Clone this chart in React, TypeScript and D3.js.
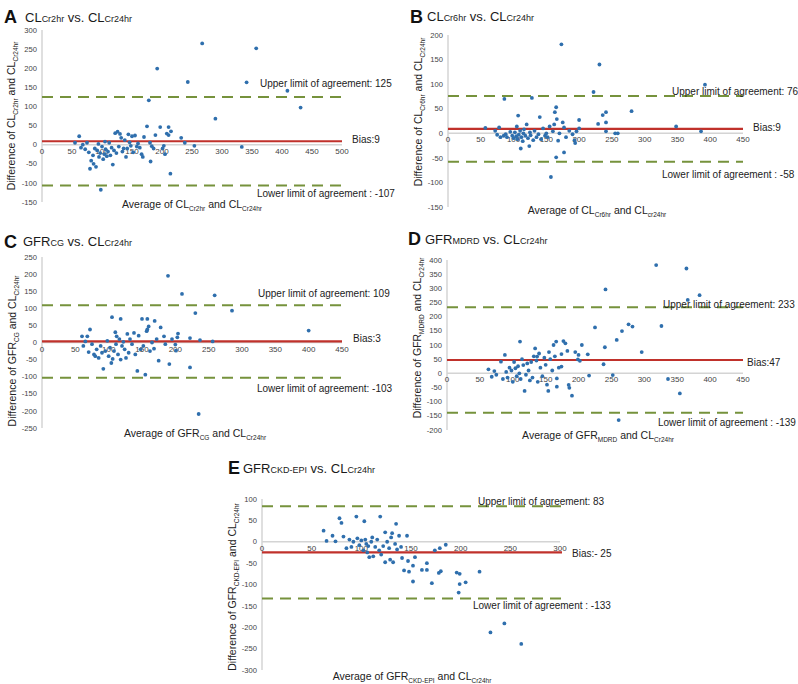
import React from "react";
import * as d3 from "d3";

// ---------- DATA ----------
const panelIds = ["A", "B", "C", "D", "E"];
const upperLimits = [125, 76, 109, 233, 83];
const biases = [9, 9, 3, 47, -25];
const lowerLimits = [-107, -58, -103, -139, -133];
const upperLabels = ["Upper limit of agreement: 125", "Upper limit of agreement: 76", "Upper limit of agreement: 109", "Upper limit of agreement: 233", "Upper limit of agreement: 83"];
const biasLabels = ["Bias:9", "Bias:9", "Bias:3", "Bias:47", "Bias:- 25"];
const lowerLabels = ["Lower limit of agreement : -107", "Lower limit of agreement : -58", "Lower limit of agreement: -103", "Lower limit of agreement : -139", "Lower limit of agreement : -133"];

const xTicksA = [0, 50, 100, 150, 200, 250, 300, 350, 400, 450, 500];
const xTicks450 = [0, 50, 100, 150, 200, 250, 300, 350, 400, 450];
const xTicksE = [0, 50, 100, 150, 200, 250, 300];
const yTicksA = [-150, -100, -50, 0, 50, 100, 150, 200, 250, 300];
const yTicksB = [-150, -100, -50, 0, 50, 100, 150, 200];
const yTicksC = [-250, -200, -150, -100, -50, 0, 50, 100, 150, 200, 250];
const yTicksD = [-200, -150, -100, -50, 0, 50, 100, 150, 200, 250, 300, 350, 400];
const yTicksE = [-300, -250, -200, -150, -100, -50, 0, 50, 100];

const pointsA: [number, number][] = [
  [55, 5], [62, 22], [65, -8], [68, 0], [72, -12], [75, 5], [78, -20], [80, -63], [82, -42], [85, -28], [86, -50], [88, -10], [90, -58], [92, -15], [94, 2], [95, -32], [97, -22], [98, -118], [100, -5], [102, -38], [104, -25], [105, 8], [106, -12], [108, -30], [110, -18], [112, 5], [114, -28], [116, -8], [118, -52], [120, -15], [122, 30], [124, -22], [126, 34], [128, -5], [130, 28], [132, 18], [134, -18], [136, -10], [138, 12], [140, -32], [142, -10], [144, 27], [146, 6], [148, -3], [150, 22], [152, -20], [155, 24], [158, -5], [160, 3], [163, -8], [166, -25], [168, -32], [170, 20], [175, 48], [178, 116], [180, 5], [181, -44], [183, -4], [186, -10], [189, 25], [192, 199], [197, 46], [201, -10], [203, -3], [205, -25], [208, 29], [211, 46], [211, 25], [214, -76], [215, 35], [232, 18], [238, 5], [243, 164], [254, -3], [267, 265], [289, 68], [333, -6], [341, 163], [357, 252], [409, 141], [431, 97],
];
const pointsB: [number, number][] = [
  [57, 11], [72, 5], [75, -3], [78, 12], [80, -8], [85, -5], [86, 70], [88, -2], [90, -8], [95, 3], [98, -5], [100, -10], [102, 2], [104, -6], [105, 14], [106, -12], [107, 36], [108, -3], [110, 5], [111, -31], [112, -8], [114, -16], [115, 0], [116, 8], [118, -5], [120, 18], [122, -10], [124, -26], [125, 2], [126, -4], [128, 72], [130, -14], [132, 5], [135, -8], [138, -2], [140, 33], [142, -12], [145, 10], [148, -5], [150, 0], [152, -8], [155, 14], [157, -89], [160, 4], [162, 18], [163, 43], [165, 53], [165, -49], [166, 29], [168, -15], [170, 0], [173, 181], [175, 22], [177, 12], [177, -39], [180, -8], [185, 5], [190, -2], [193, -14], [194, -20], [196, 4], [200, 27], [200, 10], [222, 84], [229, 19], [231, 140], [236, 37], [241, 43], [241, 22], [241, 4], [255, 0], [259, 0], [280, 45], [348, 14], [386, 4], [392, 99],
];
const pointsC: [number, number][] = [
  [60, 18], [62, -10], [65, 3], [68, 18], [70, -28], [72, 38], [75, -5], [78, -35], [80, -40], [82, -20], [85, -45], [88, -10], [90, -30], [92, -77], [95, -25], [98, 5], [100, -40], [102, -15], [104, -60], [105, 74], [106, -48], [108, -25], [110, 30], [111, -5], [112, 18], [114, -35], [116, 10], [118, 69], [118, -50], [120, -10], [122, 2], [124, -20], [126, -45], [128, 25], [130, -30], [132, 10], [135, -5], [138, 28], [140, -35], [143, -83], [145, 20], [148, -20], [150, 69], [152, -10], [155, -94], [157, 33], [158, 38], [158, 69], [160, 47], [162, -25], [165, 0], [168, -18], [169, 63], [172, 10], [175, -53], [178, 44], [183, 18], [185, -5], [189, 195], [191, -63], [195, 10], [200, -6], [201, -24], [203, 15], [204, 26], [210, 142], [222, 13], [222, -73], [230, 86], [235, -209], [237, 7], [256, 3], [259, 138], [285, 93], [400, 35],
];
const pointsD: [number, number][] = [
  [63, 14], [68, -12], [72, 8], [75, -5], [82, 41], [85, -20], [88, 65], [90, 5], [92, -15], [95, 20], [98, 10], [100, -30], [102, 40], [104, 18], [106, -10], [108, 25], [110, 0], [111, 112], [112, -20], [114, 50], [116, 29], [118, -62], [120, -5], [122, 35], [124, 10], [126, -25], [128, 40], [130, -15], [132, 60], [134, 88], [136, 45], [137, 59], [138, -30], [140, 70], [142, 20], [145, -10], [148, 55], [150, 30], [152, -40], [154, -62], [155, 75], [157, 50], [160, 10], [162, 100], [164, 60], [166, 112], [167, -18], [167, -47], [170, 20], [174, 68], [174, 24], [177, 114], [180, 106], [183, 79], [185, -41], [186, -51], [190, -79], [195, 75], [199, 49], [200, 65], [202, 44], [205, 100], [214, 67], [216, -8], [225, 162], [238, 32], [240, 92], [241, 296], [252, -6], [258, 118], [261, -165], [266, 149], [276, 173], [282, 165], [296, 75], [318, 382], [326, 167], [336, -20], [354, -71], [364, 370], [366, 259], [384, 276],
];
const pointsE: [number, number][] = [
  [62, 26], [65, 2], [71, 14], [74, 1], [78, 55], [80, 44], [82, 12], [85, -15], [88, 5], [90, -12], [92, 0], [95, 59], [96, 8], [98, -8], [100, 3], [102, -20], [103, 48], [104, 5], [105, -5], [106, -25], [107, -10], [108, -36], [110, 0], [111, 10], [112, -34], [114, -12], [116, 5], [118, -20], [119, 59], [120, -30], [122, -10], [124, 22], [124, -48], [126, 0], [128, -15], [129, -42], [130, 10], [131, 20], [132, -48], [134, -5], [135, 42], [136, -18], [138, 14], [140, -12], [141, -38], [143, -67], [146, 14], [147, -45], [148, -70], [152, -56], [152, -93], [154, -36], [161, -66], [166, -50], [166, -66], [171, -97], [174, -20], [178, -73], [179, -15], [180, -69], [185, -7], [196, -72], [198, -119], [199, -75], [199, -99], [205, -95], [219, -70], [230, -212], [244, -191], [261, -239],
];

// title / axis-title parts: [main, sub, main, sub]
const titleParts: [string, string, string, string][] = [
  ["CL", "Cr2hr", "CL", "Cr24hr"],
  ["CL", "Cr6hr", "CL", "Cr24hr"],
  ["GFR", "CG", "CL", "Cr24hr"],
  ["GFR", "MDRD", "CL", "Cr24hr"],
  ["GFR", "CKD-EPI", "CL", "Cr24hr"],
];
const xTitleSubs = [["Cr2hr", "Cr24hr"], ["Cr6hr", "cr24hr"], ["CG", "Cr24hr"], ["MDRD", "Cr24hr"], ["CKD-EPI", "Cr24hr"]];

// ---------- LAYOUT ----------
const layout = [
  { x0: 42, x1: 342, xMax: 500, yTop: 30, yBot: 202, yMin: -150, yMaxV: 300, lineEnd: 342,
    letter: [4, 23], title: [25, 22], upper: [260, 87], bias: [352, 143], lower: [257, 197], yT: [15, 116], xT: [192, 208] },
  { x0: 448, x1: 743, xMax: 450, yTop: 35, yBot: 207, yMin: -150, yMaxV: 200, lineEnd: 743,
    letter: [410, 23], title: [427, 21], upper: [672, 95], bias: [753, 131], lower: [662, 178], yT: [422, 112], xT: [597, 214] },
  { x0: 42, x1: 342, xMax: 450, yTop: 257, yBot: 428, yMin: -250, yMaxV: 250, lineEnd: 342,
    letter: [4, 248], title: [23, 246], upper: [258, 297], bias: [353, 342], lower: [257, 392], yT: [16, 351], xT: [195, 437] },
  { x0: 447, x1: 743, xMax: 450, yTop: 260, yBot: 430, yMin: -200, yMaxV: 400, lineEnd: 743,
    letter: [408, 245], title: [425, 244], upper: [663, 308], bias: [747, 366], lower: [658, 426], yT: [421, 338], xT: [598, 439] },
  { x0: 262, x1: 560, xMax: 300, yTop: 499, yBot: 670, yMin: -300, yMaxV: 100, lineEnd: 562,
    letter: [228, 474], title: [243, 473], upper: [478, 505], bias: [572, 557], lower: [473, 609], yT: [236, 587], xT: [412, 680] },
];

const allPoints = [pointsA, pointsB, pointsC, pointsD, pointsE];
const xTicksAll = [xTicksA, xTicks450, xTicks450, xTicks450, xTicksE];
const yTicksAll = [yTicksA, yTicksB, yTicksC, yTicksD, yTicksE];

const FONT = "Liberation Sans, Arial, sans-serif";
const GREEN = "#76923c";
const RED = "#c0312b";
const BLUE = "#2f6fad";
const TXT = "#222";

function Panel({ i }: { i: number }) {
  const L = layout[i];
  const x = d3.scaleLinear().domain([0, L.xMax]).range([L.x0, L.x1]);
  const y = d3.scaleLinear().domain([L.yMin, L.yMaxV]).range([L.yBot, L.yTop]);
  const y0 = y(0);
  const [m1, s1, m2, s2] = titleParts[i];
  const [xs1, xs2] = xTitleSubs[i];
  const hline = (v: number, color: string, dash?: string, w = 2) => (
    <line x1={L.x0} x2={L.lineEnd} y1={y(v)} y2={y(v)} stroke={color} strokeWidth={w} strokeDasharray={dash} />
  );
  return (
    <g fontFamily={FONT}>
      <line x1={L.x0} x2={L.x0} y1={L.yTop} y2={L.yBot} stroke="#d4d4d4" strokeWidth={1.5} />
      <line x1={L.x0} x2={L.x1} y1={y0} y2={y0} stroke="#d4d4d4" strokeWidth={1.5} />
      {yTicksAll[i].map((t) => (
        <text key={"y" + t} x={L.x0 - 5} y={y(t)} dy="0.35em" textAnchor="end" fontSize={7.6} fill="#444">{t}</text>
      ))}
      {xTicksAll[i].map((t) => (
        <text key={"x" + t} x={x(t)} y={y0 + 9} textAnchor="middle" fontSize={8} fill="#444">{t}</text>
      ))}
      {hline(upperLimits[i], GREEN, "11,7")}
      {hline(lowerLimits[i], GREEN, "11,7")}
      {hline(biases[i], RED, undefined, 2.2)}
      {allPoints[i].map(([a, d], k) => (
        <circle key={k} cx={x(a)} cy={y(d)} r={1.9} fill={BLUE} />
      ))}
      <text x={L.upper[0]} y={L.upper[1]} fontSize={10} fill={TXT}>{upperLabels[i]}</text>
      <text x={L.bias[0]} y={L.bias[1]} fontSize={10} fill={TXT}>{biasLabels[i]}</text>
      <text x={L.lower[0]} y={L.lower[1]} fontSize={10} fill={TXT}>{lowerLabels[i]}</text>
      <text x={L.letter[0]} y={L.letter[1]} fontSize={18} fontWeight="bold" fill="#111">{panelIds[i]}</text>
      <text x={L.title[0]} y={L.title[1]} fontSize={13} fill="#1a1a1a">
        {m1}<tspan fontSize={9}>{s1}</tspan> vs. {m2}<tspan fontSize={9}>{s2}</tspan>
      </text>
      <text transform={`translate(${L.yT[0]},${L.yT[1]}) rotate(-90)`} textAnchor="middle" fontSize={10.5} fill={TXT}>
        Difference of {m1}<tspan fontSize={6.5} dy={3}>{s1}</tspan><tspan dy={-3}> and {m2}</tspan><tspan fontSize={6.5} dy={3}>{s2}</tspan>
      </text>
      <text x={L.xT[0]} y={L.xT[1]} textAnchor="middle" fontSize={10.5} fill={TXT}>
        Average of {m1}<tspan fontSize={6.5} dy={3}>{xs1}</tspan><tspan dy={-3}> and {m2}</tspan><tspan fontSize={6.5} dy={3}>{xs2}</tspan>
      </text>
    </g>
  );
}

export default function App() {
  return (
    <svg width={798} height={684} style={{ position: "absolute", left: 0, top: 0, background: "#fff" }}>
      <rect width={798} height={684} fill="#fff" />
      {panelIds.map((_, i) => (
        <Panel key={i} i={i} />
      ))}
    </svg>
  );
}
